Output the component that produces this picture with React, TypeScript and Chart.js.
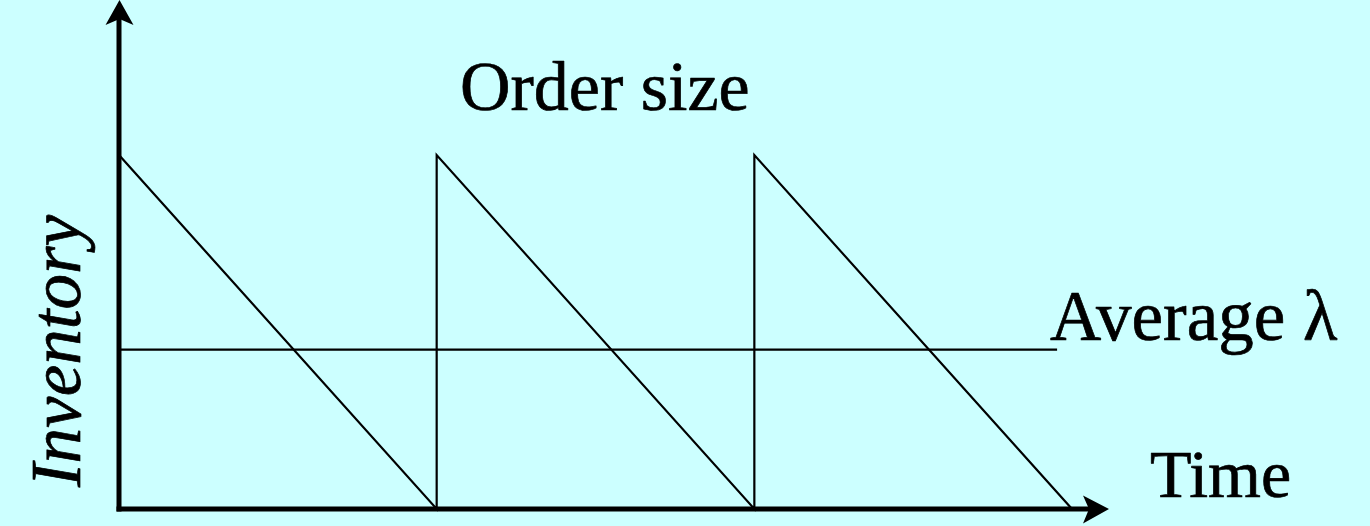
import React, { useEffect, useRef } from "react";
import { Chart, registerables } from "chart.js";

Chart.register(...registerables);

// Sawtooth inventory pattern (time in order cycles, inventory as % of order size)
const cycleTimes = [0, 1, 1, 2, 2, 3];
const inventoryLevels = [100, 0, 100, 0, 100, 0];

// Average inventory line
const averageTimes = [0, 2.953];
const averageLevels = [45, 45];

// Axis extents
const X_MAX = 3.1164;
const Y_MAX = 143.8;

const LABEL_ORDER = "Order size";
const LABEL_AVERAGE = "Average λ";
const LABEL_TIME = "Time";
const LABEL_INVENTORY = "Inventory";

const BG = "#CCFFFF";
const FONT = '"Liberation Serif", "Times New Roman", serif';

function drawText(ctx: any, text: string, x: number, y: number) {
  ctx.fillText(text, x, y);
  ctx.strokeText(text, x, y);
}

const decorPlugin = {
  id: "decor",
  beforeDraw(chart: any) {
    const { ctx, width, height } = chart;
    ctx.save();
    ctx.fillStyle = BG;
    ctx.fillRect(0, 0, width, height);
    ctx.restore();
  },
  afterDatasetsDraw(chart: any) {
    const { ctx } = chart;
    const xs = chart.scales.x;
    const ys = chart.scales.y;
    const x0 = xs.getPixelForValue(0);
    const y0 = ys.getPixelForValue(0);
    const xTip = xs.right;
    const yTip = ys.top;
    ctx.save();
    ctx.strokeStyle = "#000";
    ctx.fillStyle = "#000";
    ctx.lineWidth = 5;
    ctx.lineCap = "butt";
    // y axis
    ctx.beginPath();
    ctx.moveTo(x0, y0 + 2.5);
    ctx.lineTo(x0, yTip + 18);
    ctx.stroke();
    // x axis
    ctx.beginPath();
    ctx.moveTo(x0 - 2.5, y0);
    ctx.lineTo(xTip - 20, y0);
    ctx.stroke();
    // y arrowhead
    ctx.beginPath();
    ctx.moveTo(x0 + 0.5, yTip);
    ctx.lineTo(x0 + 14.5, yTip + 25);
    ctx.lineTo(x0 + 0.5, yTip + 19);
    ctx.lineTo(x0 - 13.5, yTip + 25);
    ctx.closePath();
    ctx.fill();
    // x arrowhead
    ctx.beginPath();
    ctx.moveTo(xTip, y0);
    ctx.lineTo(xTip - 26, y0 - 13.5);
    ctx.lineTo(xTip - 20, y0);
    ctx.lineTo(xTip - 26, y0 + 14.5);
    ctx.closePath();
    ctx.fill();

    // labels
    ctx.lineWidth = 0.7;
    ctx.lineJoin = "round";
    ctx.textBaseline = "alphabetic";
    ctx.textAlign = "left";
    ctx.font = `70px ${FONT}`;
    drawText(ctx, LABEL_ORDER, 460, 110);
    ctx.font = `71px ${FONT}`;
    drawText(ctx, LABEL_AVERAGE, 1050, 340);
    ctx.font = `68px ${FONT}`;
    drawText(ctx, LABEL_TIME, 1150, 497);

    ctx.font = `italic 71px ${FONT}`;
    ctx.translate(80, 351);
    ctx.rotate(-Math.PI / 2);
    ctx.textAlign = "center";
    drawText(ctx, LABEL_INVENTORY, 0, 0);
    ctx.restore();
  },
};

export default function App() {
  const ref = useRef<HTMLCanvasElement | null>(null);

  useEffect(() => {
    document.body.style.margin = "0";
    document.body.style.background = BG;
    const canvas = ref.current;
    if (!canvas) return;
    const chart = new Chart(canvas, {
      type: "line",
      data: {
        datasets: [
          {
            label: "Inventory",
            data: cycleTimes.map((t, i) => ({ x: t, y: inventoryLevels[i] })),
            borderColor: "#000",
            borderWidth: 2.2,
            pointRadius: 0,
            tension: 0,
            fill: false,
            clip: false as any,
          },
          {
            label: "Average",
            data: averageTimes.map((t, i) => ({ x: t, y: averageLevels[i] })),
            borderColor: "#000",
            borderWidth: 2.2,
            pointRadius: 0,
            tension: 0,
            fill: false,
            clip: false as any,
          },
        ],
      },
      options: {
        responsive: false,
        animation: false,
        layout: { padding: { left: 119, right: 261, top: 0, bottom: 17 } },
        plugins: {
          legend: { display: false },
          tooltip: { enabled: false },
          title: { display: false },
        },
        scales: {
          x: { type: "linear", min: 0, max: X_MAX, display: false },
          y: { type: "linear", min: 0, max: Y_MAX, display: false },
        },
      },
      plugins: [decorPlugin],
    });
    return () => chart.destroy();
  }, []);

  return (
    <div style={{ position: "fixed", left: 0, top: 0, width: 1370, height: 526, background: BG }}>
      <canvas ref={ref} width={1370} height={526} style={{ display: "block" }} />
    </div>
  );
}
